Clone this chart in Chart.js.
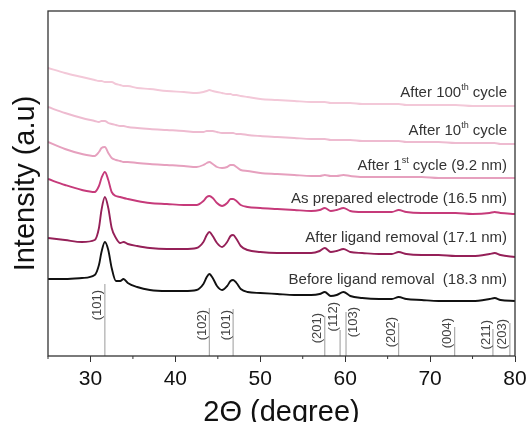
<!DOCTYPE html>
<html>
<head>
<meta charset="utf-8">
<script src="https://cdn.jsdelivr.net/npm/chart.js@4.4.1/dist/chart.umd.min.js"></script>
<style>
    html, body { margin: 0; padding: 0; background: #fff; }
    #wrap { width: 530px; height: 422px; }
</style>
</head>
<body>
<div id="wrap"><canvas id="xrdChart" width="530" height="422"></canvas></div>
<script>
// 2 theta sample points (degree)
const twoTheta = [25, 27, 29, 30.5, 31, 31.3, 31.7, 32.1, 32.5, 33, 33.5, 33.9, 34.4, 35.5, 37, 39, 41, 42.5, 43.3, 43.7,
    44, 44.4, 44.9, 45.5, 46.1, 46.5, 46.8, 47.2, 47.7, 48.5, 50, 52, 54, 56, 57, 57.6, 58.3, 59, 59.8, 60.6,
    62, 64, 65.5, 66.3, 67.2, 69, 71, 73, 75, 77, 77.6, 78.3, 80];

// intensities (a.u., offset stacked as in the figure)
const beforeLigand = [77, 77, 78, 81, 91, 104, 114, 106, 88, 75, 75, 77, 73, 69, 66, 65, 65, 66, 72, 79,
    82, 78, 70, 66, 70, 75, 76, 73, 67, 64, 63, 62, 61, 61, 62, 64, 60, 61, 64, 60,
    58, 57, 57, 59, 57, 56, 55, 55, 55, 57, 58, 56, 55];
const afterLigand = [118, 116, 114, 116, 128, 146, 159, 148, 128, 118, 113, 114, 112, 110, 108, 107, 107, 108, 114, 121,
    124, 120, 113, 109, 114, 120, 121, 117, 110, 106, 104, 103, 103, 103, 105, 108, 104, 105, 107, 104,
    103, 102, 102, 104, 102, 101, 101, 100, 100, 102, 103, 101, 99];
const asPrepared = [177, 171, 166, 164, 170, 178, 184, 176, 164, 160, 159, 158, 157, 155, 153, 152, 151, 151, 155, 159,
    160, 158, 153, 150, 153, 157, 157, 155, 151, 149, 148, 147, 146, 145, 146, 148, 145, 146, 148, 145,
    144, 144, 144, 146, 144, 143, 143, 143, 142, 143, 144, 143, 142];
const after1st = [214, 207, 202, 200, 204, 208, 209, 203, 198, 196, 195, 194, 194, 193, 192, 191, 190, 189, 191, 193,
    194, 192, 189, 188, 189, 191, 191, 189, 186, 185, 183, 182, 181, 180, 180, 181, 180, 180, 181, 180,
    179, 179, 179, 179, 179, 179, 178, 178, 178, 178, 178, 178, 178];
const after10th = [249, 243, 238, 235, 234, 235, 235, 233, 232, 231, 230, 230, 229, 228, 227, 226, 225, 224, 224, 225,
    225, 225, 224, 223, 223, 223, 223, 222, 222, 221, 220, 219, 218, 217, 217, 217, 216, 216, 216, 216,
    215, 215, 215, 215, 214, 214, 214, 213, 213, 213, 213, 212, 212];
const after100th = [288, 283, 279, 276, 275, 275, 274, 274, 274, 272, 271, 270, 270, 268, 267, 265, 264, 263, 264, 265,
    266, 265, 264, 263, 262, 262, 261, 261, 260, 259, 257, 256, 255, 254, 254, 254, 253, 253, 253, 253,
    252, 252, 252, 252, 251, 251, 251, 251, 250, 250, 250, 250, 250];

// curve labels: [text, superscript, text] and the intensity level they sit at
const seriesLabels = [
    ['After 100', 'th', ' cycle'],
    ['After 10', 'th', ' cycle'],
    ['After 1', 'st', ' cycle (9.2 nm)'],
    ['As prepared electrode (16.5 nm)', '', ''],
    ['After ligand removal (17.1 nm)', '', ''],
    ['Before ligand removal  (18.3 nm)', '', '']
];
const seriesLabelY = [263, 225, 190, 157, 118, 76];

// reference pattern sticks
const refHkl = ['(101)', '(102)', '(101)', '(201)', '(112)', '(103)', '(202)', '(004)', '(211)', '(203)'];
const refPos = [31.7, 44.0, 46.8, 57.6, 59.4, 60.1, 66.3, 72.9, 77.4, 79.4];
const refTop = [72, 48, 47, 40, 26, 44, 33, 29, 27, 33];
const refLabelEnd = [66, 46, 46, 43, 54, 49, 39, 38, 36, 37];
const refLabelSide = [-1, -1, -1, -1, -1, 1, -1, -1, -1, -1];

const xTicks = [30, 40, 50, 60, 70, 80];

const FONT = '"Liberation Sans", Arial, sans-serif';

function toPoints(ys) {
    return twoTheta.map((t, i) => ({ x: t, y: ys[i] }));
}

// sticks: bottom -> top, then a gap
const stickPoints = [];
refPos.forEach((p, i) => {
    stickPoints.push({ x: p, y: 0 });
    stickPoints.push({ x: p, y: refTop[i] });
    stickPoints.push({ x: p, y: null });
});

const decorations = {
    id: 'decorations',
    afterDatasetsDraw(chart) {
        const { ctx, chartArea: a, scales: { x, y } } = chart;
        ctx.save();

        // frame
        ctx.strokeStyle = '#333';
        ctx.lineWidth = 1.3;
        ctx.strokeRect(a.left, a.top, a.right - a.left, a.bottom - a.top);

        // minor ticks
        ctx.lineWidth = 1;
        ctx.beginPath();
        for (let v = 25; v < 80; v += 10) {
            const px = x.getPixelForValue(v);
            ctx.moveTo(px, a.bottom);
            ctx.lineTo(px, a.bottom + 3);
        }
        ctx.stroke();

        // hkl labels, rotated
        ctx.font = '13px ' + FONT;
        ctx.fillStyle = '#444';
        ctx.textAlign = 'right';
        ctx.textBaseline = 'middle';
        refHkl.forEach((t, i) => {
            const px = x.getPixelForValue(refPos[i]) + refLabelSide[i] * 7;
            const py = y.getPixelForValue(refLabelEnd[i]);
            ctx.save();
            ctx.translate(px, py);
            ctx.rotate(-Math.PI / 2);
            ctx.fillText(t, 0, 0);
            ctx.restore();
        });

        // curve labels (right aligned, with superscripts)
        const fonts = ['15px ' + FONT, '9px ' + FONT, '15px ' + FONT];
        ctx.fillStyle = '#333';
        ctx.textAlign = 'left';
        seriesLabels.forEach((parts, i) => {
            const py = y.getPixelForValue(seriesLabelY[i]);
            const widths = parts.map((p, k) => {
                ctx.font = fonts[k];
                return ctx.measureText(p).width;
            });
            let xPos = a.right - 8 - widths.reduce((s, w) => s + w, 0);
            parts.forEach((p, k) => {
                ctx.font = fonts[k];
                ctx.fillText(p, xPos, k === 1 ? py - 5 : py);
                xPos += widths[k];
            });
        });
        ctx.restore();
    }
};

const ctx = document.getElementById('xrdChart').getContext('2d');
const xrdChart = new Chart(ctx, {
    type: 'line',
    data: {
        datasets: [
            { label: 'After 100th cycle', data: toPoints(after100th), borderColor: '#f3c8d8' },
            { label: 'After 10th cycle', data: toPoints(after10th), borderColor: '#eebbd0' },
            { label: 'After 1st cycle', data: toPoints(after1st), borderColor: '#e6a0be' },
            { label: 'As prepared electrode', data: toPoints(asPrepared), borderColor: '#c63a7a' },
            { label: 'After ligand removal', data: toPoints(afterLigand), borderColor: '#952058' },
            { label: 'Before ligand removal', data: toPoints(beforeLigand), borderColor: '#111111' },
            { label: 'reference', data: stickPoints, borderColor: '#9a9a9a', borderWidth: 1, spanGaps: false,
              cubicInterpolationMode: 'default', tension: 0 }
        ]
    },
    options: {
        responsive: false,
        animation: false,
        devicePixelRatio: 1,
        layout: { padding: { top: 11, right: 15, left: 0, bottom: 0 } },
        elements: {
            point: { radius: 0 },
            line: { borderWidth: 1.9, cubicInterpolationMode: 'monotone' }
        },
        plugins: {
            legend: { display: false },
            tooltip: { enabled: false }
        },
        scales: {
            x: {
                type: 'linear',
                min: 25,
                max: 80,
                afterBuildTicks: scale => { scale.ticks = xTicks.map(v => ({ value: v })); },
                afterFit: scale => {
                    scale.height = 66;
                    scale.paddingLeft = 0;
                    scale.paddingRight = 0;
                },
                grid: { drawOnChartArea: false, tickLength: 6, tickColor: '#333', lineWidth: 1 },
                border: { display: false },
                ticks: { color: '#111', font: { family: FONT, size: 21 }, padding: 5, maxRotation: 0 },
                title: {
                    display: true,
                    text: '2Θ (degree)',
                    color: '#111',
                    font: { family: FONT, size: 29, lineHeight: 0.62 },
                    padding: 0
                }
            },
            y: {
                min: 0,
                max: 345,
                afterFit: scale => { scale.width = 48; },
                grid: { display: false },
                border: { display: false },
                ticks: { display: false },
                title: {
                    display: true,
                    text: 'Intensity (a.u)',
                    color: '#111',
                    font: { family: FONT, size: 29, lineHeight: 1.2 },
                    padding: { top: 9, bottom: 0 }
                }
            }
        }
    },
    plugins: [decorations]
});
</script>
</body>
</html>
